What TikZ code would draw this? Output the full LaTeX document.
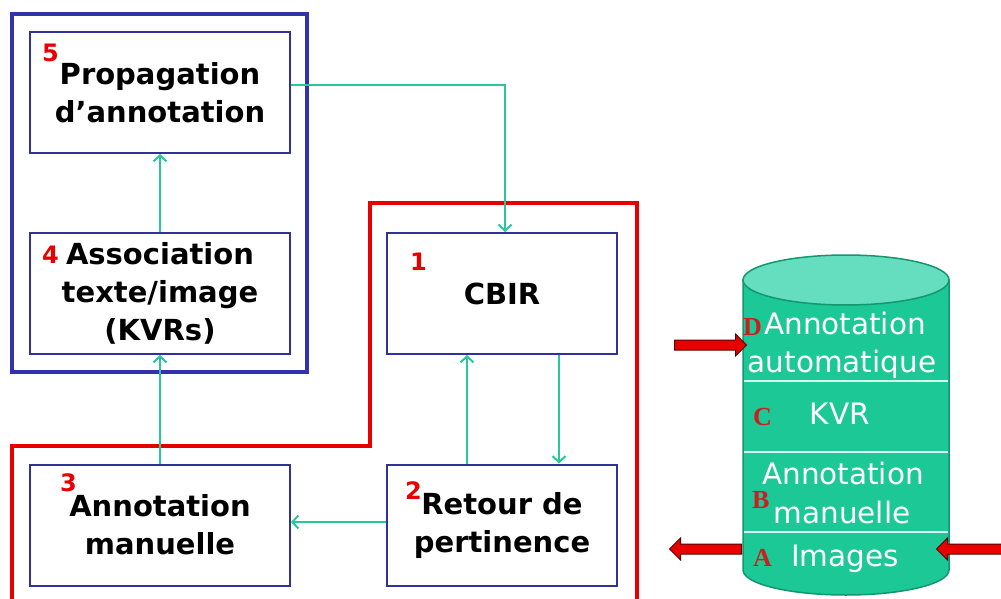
\documentclass[tikz,border=0pt]{standalone}
\usepackage{fontspec}
\setmainfont{DejaVu Sans}
\newfontfamily\serifb{Liberation Serif}
\usetikzlibrary{shapes.arrows,arrows.meta}
\definecolor{frameblue}{RGB}{50,50,170}
\definecolor{boxblue}{RGB}{50,50,150}
\definecolor{framered}{RGB}{232,0,0}
\definecolor{flow}{RGB}{40,200,155}
\definecolor{dbbody}{RGB}{28,200,150}
\definecolor{dbtop}{RGB}{100,222,190}
\definecolor{dbedge}{RGB}{20,150,110}
\definecolor{lettred}{RGB}{205,30,30}
\definecolor{arrowedge}{RGB}{90,0,0}
\begin{document}
\begin{tikzpicture}[x=1pt,y=-1pt,
  stepbox/.style={draw=boxblue,line width=2pt,minimum height=121pt,inner sep=0pt,
    align=center,font=\fontsize{29}{38}\selectfont\bfseries},
  num/.style={text=framered,font=\fontsize{24}{24}\selectfont\bfseries,inner sep=0pt,anchor=base west},
  flowarrow/.style={draw=flow,line width=2.2pt,-{Straight Barb[length=6pt,width=13pt,line width=2pt]}},
  dbtext/.style={text=white,font=\fontsize{29.5}{29.5}\selectfont,inner sep=0pt,anchor=base},
  dbletter/.style={text=lettred,font=\serifb\fontsize{26}{26}\selectfont\bfseries,inner sep=0pt,anchor=base west},
  redarrow/.style={single arrow,draw=arrowedge,fill=framered,line width=1pt,inner sep=4.5pt,
    single arrow head extend=6pt,minimum height=72pt}
]
\clip (0,0) rectangle (1001,599);
\fill[white] (0,0) rectangle (1001,599);

% frames
\draw[frameblue,line width=3.5pt] (12,14) rectangle (307,372);
\draw[framered,line width=3.5pt] (12,605) -- (12,446) -- (370,446) -- (370,203) -- (637,203) -- (637,605);

% step boxes
\node[stepbox,minimum width=260pt] (p5) at (160,92.5) {Propagation\\d’annotation};
\node[stepbox,minimum width=260pt] (p4) at (160,293.5) {Association\\texte/image\\(KVRs)};
\node[stepbox,minimum width=260pt] (p3) at (160,525) {Annotation\\manuelle};
\node[stepbox,minimum width=230pt] (p1) at (502,293.5) {CBIR};
\node[stepbox,minimum width=230pt] (p2) at (502,525) {Retour de\\pertinence};

% numbers
\node[num] (n5) at (42,62) {5};
\node[num] (n4) at (42,263) {4};
\node[num] (n3) at (60,491) {3};
\node[num] (n2) at (405,499) {2};
\node[num] (n1) at (410,270) {1};

% connectors
\draw[flowarrow] ([yshift=7.5pt]p5.east) -| ([xshift=3pt]p1.north);
\draw[flowarrow] (p4.north) -- (p5.south);
\draw[flowarrow] (p3.north) -- (p4.south);
\draw[flowarrow] ([xshift=-35pt]p2.north) -- ([xshift=-35pt]p1.south);
\draw[flowarrow] ([xshift=57pt]p1.south) -- ([xshift=57pt]p2.north);
\draw[flowarrow] ([yshift=3pt]p2.west) -- ([yshift=3pt]p3.east);

% database cylinder
\coordinate (dbtopc) at (846,280);
\filldraw[fill=dbbody,draw=dbedge,line width=1.5pt] (743,280) -- (743,570)
  arc[start angle=180,end angle=360,x radius=103pt,y radius=25pt] -- (949,280) -- cycle;
\filldraw[fill=dbtop,draw=dbedge,line width=1.5pt] (dbtopc) ellipse [x radius=103pt,y radius=25pt];
\draw[white!85!dbbody,line width=1.2pt] (744,381) -- (948,381);
\draw[white!85!dbbody,line width=1.2pt] (744,452) -- (948,452);
\draw[white!85!dbbody,line width=1.2pt] (744,532) -- (948,532);

\node[dbtext] (t1) at (845,334) {Annotation};
\node[dbtext] (t2) at (842,372) {automatique};
\node[dbtext] (t3) at (840,424) {KVR};
\node[dbtext] (t4) at (843,484) {Annotation};
\node[dbtext] (t5) at (842,523) {manuelle};
\node[dbtext] (t6) at (845,566) {Images};

\node[dbletter] (lD) at (743,335) {D};
\node[dbletter] (lC) at (753,425) {C};
\node[dbletter] (lB) at (752,508) {B};
\node[dbletter] (lA) at (753,566) {A};

% red block arrows
\node[redarrow] (inD) at (708,345) {};
\node[redarrow,shape border rotate=180] (outA) at (708,549) {};
\node[redarrow,shape border rotate=180] (inA) at (975,549) {};
\end{tikzpicture}
\end{document}
